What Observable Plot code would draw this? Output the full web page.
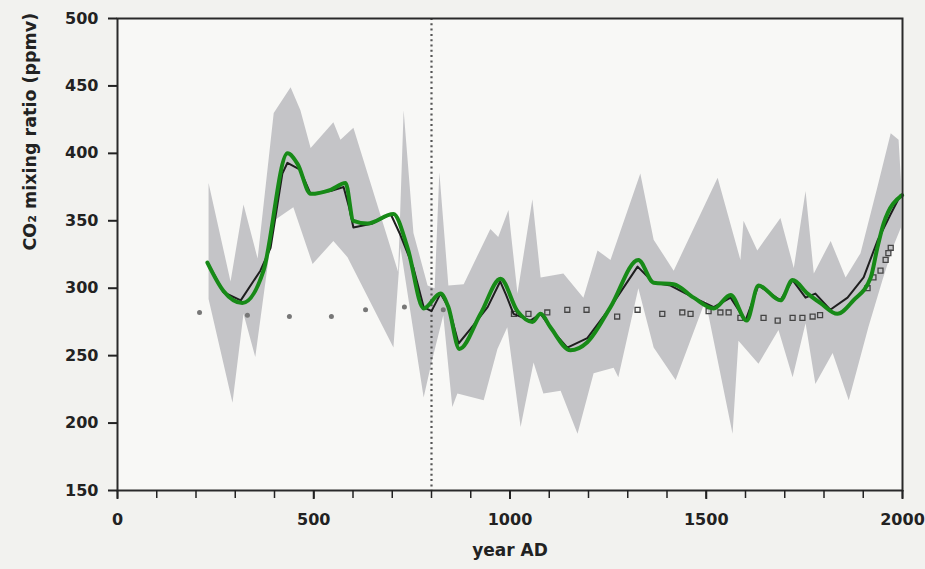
<!DOCTYPE html>
<html><head><meta charset="utf-8">
<script src="https://cdn.jsdelivr.net/npm/d3@7"></script>
<script src="https://cdn.jsdelivr.net/npm/@observablehq/plot@0.6"></script>
<style>
html,body{margin:0;padding:0;background:#f2f2ef;}
#chart{width:925px;height:569px;}
</style></head><body><div id="chart"></div>
<script>
// Grey uncertainty band: upper and lower envelope vertices [year, ppmv]
const bandUpper = [[232,378],[288,305],[321,362],[357,322],[398,430],[441,449],[466,432],[492,404],[550,423],[568,410],[601,419],[715,312],[729,432],[754,341],[790,302],[808,300],[820,386],[843,302],[882,303],[950,344],[970,338],[996,358],[1019,296],[1057,366],[1078,308],[1136,311],[1187,293],[1223,328],[1256,321],[1332,385],[1366,336],[1417,313],[1529,382],[1587,321],[1595,350],[1630,328],[1689,352],[1723,315],[1753,372],[1774,311],[1817,335],[1855,308],[1893,326],[1936,375],[1970,415],[1990,410],[1996,380]];
const bandLower = [[232,292],[293,215],[321,281],[351,249],[398,350],[448,360],[497,318],[550,335],[586,323],[703,256],[721,330],[780,219],[800,245],[830,280],[853,212],[866,222],[933,217],[968,255],[993,271],[1027,197],[1060,245],[1085,222],[1129,224],[1172,192],[1213,237],[1264,241],[1276,234],[1327,300],[1366,256],[1422,232],[1498,291],[1567,192],[1582,261],[1633,244],[1684,269],[1720,234],[1753,274],[1778,229],[1822,252],[1863,217],[1913,271],[1949,306],[1975,330],[1996,345]];
// Smoothed (green) curve
const greenYears = [229,270,318,372,433,459,492,543,581,601,637,703,739,780,823,843,871,925,976,1019,1057,1078,1103,1154,1197,1256,1327,1366,1417,1468,1519,1562,1603,1633,1689,1720,1758,1791,1834,1875,1919,1936,1952,1999];
const greenCO2  = [319,298,289,313,400,392,370,373,378,350,348,355,330,285,296,286,255,281,307,283,275,281,271,254,260,286,321,304,303,293,285,295,276,302,291,306,296,289,281,291,308,330,348,369];
// Black record line
const blackYears = [232,270,314,364,390,420,433,465,492,543,576,590,601,650,696,720,754,780,800,823,845,869,900,943,975,990,1009,1052,1078,1110,1146,1197,1256,1325,1366,1409,1468,1519,1562,1600,1633,1689,1720,1753,1778,1816,1860,1901,1936,1970,1995];
const blackCO2  = [318,297,291,313,330,385,393,388,370,372,375,360,345,348,355,340,315,286,283,296,285,259,270,286,305,295,281,276,281,268,256,263,286,316,304,302,293,286,293,276,302,291,306,293,296,284,293,308,335,355,369];
// Open squares (later record) and grey dots (early record)
const squareYears = [1010,1047,1095,1146,1195,1273,1325,1388,1439,1460,1506,1536,1557,1587,1646,1682,1720,1745,1771,1790,1911,1926,1944,1957,1964,1970];
const squareCO2  = [281,281,282,284,284,279,284,281,282,281,283,282,282,278,278,276,278,278,279,280,300,308,313,321,326,330];
const dotYears = [209,331,438,545,632,731,830];
const dotCO2  = [282,280,279,279,284,286,284];
// Axes
const xMajorTicks = [0,500,1000,1500,2000];
const xMinorTicks = [0,100,200,300,400,500,600,700,800,900,1000,1100,1200,1300,1400,1500,1600,1700,1800,1900,2000];
const yTicks = [150,200,250,300,350,400,450,500];
const boundaryYear = [800];

const toRows = (ys, vs) => ys.map((year, i) => ({year, co2: vs[i]}));
const band = [...bandUpper, ...bandLower.slice().reverse()].map(([year, co2]) => ({year, co2}));
const green = toRows(greenYears, greenCO2);
const black = toRows(blackYears, blackCO2);
const squares = toRows(squareYears, squareCO2);
const dots = toRows(dotYears, dotCO2);

const chart = Plot.plot({
  width: 925, height: 569,
  marginLeft: 117, marginRight: 23, marginTop: 18, marginBottom: 79,
  style: {background: "transparent", fontFamily: "DejaVu Sans", fontWeight: "bold", fontSize: "16px", color: "#222"},
  x: {domain: [0, 2000]},
  y: {domain: [150, 500]},
  marks: [
    Plot.frame({fill: "#f8f8f6", stroke: null}),
    Plot.line(band, {x: "year", y: "co2", fill: "#c4c4c7", stroke: "none", curve: "linear"}),
    Plot.ruleX(boundaryYear, {stroke: "#555", strokeWidth: 2.2, strokeDasharray: "2,3.3"}),
    Plot.dot(dots, {x: "year", y: "co2", r: 2.5, fill: "#777", stroke: "none"}),
    Plot.dot(squares, {x: "year", y: "co2", symbol: "square", r: 2.8, fill: "none", stroke: "#444", strokeWidth: 1.3}),
    Plot.line(black, {x: "year", y: "co2", stroke: "#1e1e1e", strokeWidth: 2}),
    Plot.line(green, {x: "year", y: "co2", stroke: "#178a17", strokeWidth: 4, curve: "monotone-x"}),
    Plot.frame({stroke: "#2a2a2a", strokeWidth: 2}),
    Plot.axisY({ticks: yTicks, tickSize: 9, tickPadding: 10, tickFormat: d => String(d), label: null, strokeWidth: 2}),
    Plot.axisX({ticks: xMinorTicks, tickSize: 8, tickFormat: () => "", label: null, strokeWidth: 1.5}),
    Plot.axisX({ticks: xMajorTicks, tickSize: 9, tickPadding: 14, tickFormat: d => String(d), label: null, strokeWidth: 2}),
    Plot.text(["year AD"], {frameAnchor: "bottom", dy: 65, fontSize: 17, fontWeight: "bold", fill: "#222"}),
    Plot.text(["CO₂ mixing ratio (ppmv)"], {frameAnchor: "left", dx: -87, dy: -4, rotate: -90, fontSize: 17.5, fontWeight: "bold", fill: "#222"})
  ]
});
document.getElementById("chart").appendChild(chart);
</script></body></html>
